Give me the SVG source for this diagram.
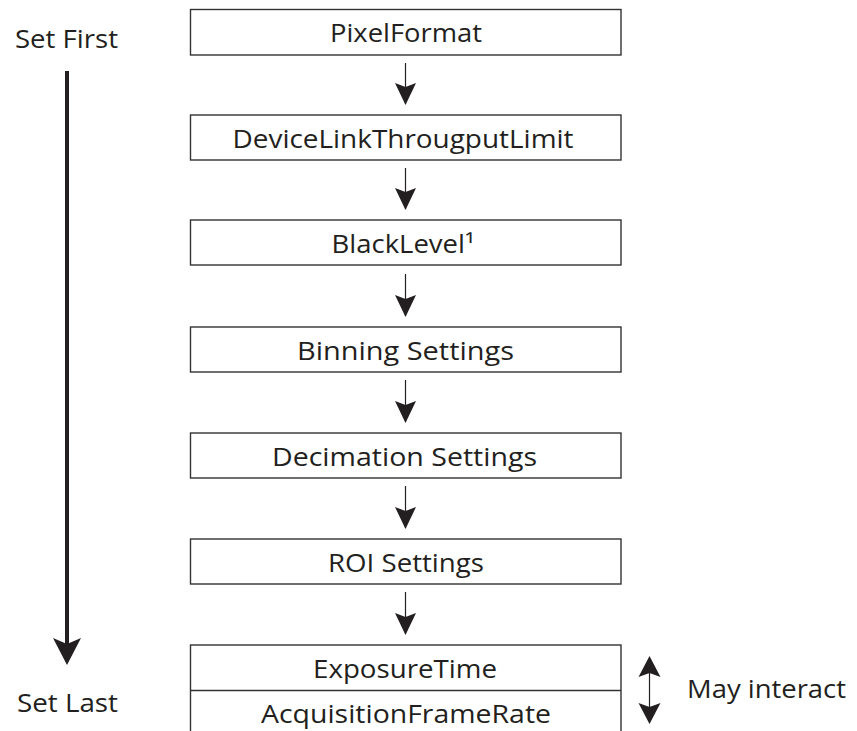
<svg xmlns="http://www.w3.org/2000/svg" width="857" height="731" viewBox="0 0 857 731">
<style>
  .box { fill: #fff; stroke: #333; stroke-width: 1.4; }
  .t { font-family: "Open Sans", "Noto Sans", sans-serif; font-size: 25px; fill: #231f20; text-anchor: middle; }
  .c { stroke: #231f20; stroke-width: 1.2; fill: none; }
  .head { fill: #231f20; stroke: none; }
</style>
<defs>
  <marker id="ah" viewBox="0 0 22 21" refX="21" refY="10.5" markerWidth="22" markerHeight="21" markerUnits="userSpaceOnUse" orient="auto">
    <path d="M0,0 L4,10.5 L0,21 L22,10.5 Z" class="head"/>
  </marker>
</defs>
<rect width="857" height="731" fill="#fff"/>

<g id="connectors">
  <line class="c" x1="405.5" y1="63" x2="405.5" y2="104" marker-end="url(#ah)"/>
  <line class="c" x1="405.5" y1="168" x2="405.5" y2="209" marker-end="url(#ah)"/>
  <line class="c" x1="405.5" y1="274" x2="405.5" y2="316" marker-end="url(#ah)"/>
  <line class="c" x1="405.5" y1="380" x2="405.5" y2="422" marker-end="url(#ah)"/>
  <line class="c" x1="405.5" y1="486" x2="405.5" y2="528" marker-end="url(#ah)"/>
  <line class="c" x1="405.5" y1="592" x2="405.5" y2="634" marker-end="url(#ah)"/>
</g>

<g id="order-arrow">
  <line x1="67" y1="71" x2="67" y2="645" stroke="#231f20" stroke-width="4"/>
  <path d="M53,638 L67,644 L81,638 L67,665 Z" class="head"/>
</g>

<g id="interact-arrow">
  <line x1="649.5" y1="670" x2="649.5" y2="710" stroke="#231f20" stroke-width="1.2"/>
  <path d="M638.5,677 L649.5,673 L660.5,677 L649.5,656 Z" class="head"/>
  <path d="M638.5,703 L649.5,707 L660.5,703 L649.5,724 Z" class="head"/>
</g>

<g id="label-set-first"><text class="t" x="66.5" y="47.5" textLength="103" lengthAdjust="spacingAndGlyphs">Set First</text></g>
<g id="label-set-last"><text class="t" x="67.5" y="712" textLength="101" lengthAdjust="spacingAndGlyphs">Set Last</text></g>
<g id="label-may-interact"><text class="t" x="766.5" y="698" textLength="159" lengthAdjust="spacingAndGlyphs">May interact</text></g>

<g id="node-pixelformat">
  <rect class="box" x="190.5" y="9.5" width="430.5" height="45.5"/>
  <text class="t" x="406" y="41.5" textLength="152" lengthAdjust="spacingAndGlyphs">PixelFormat</text>
</g>
<g id="node-devicelink">
  <rect class="box" x="190.5" y="115" width="430.5" height="45"/>
  <text class="t" x="403" y="147.5" textLength="341" lengthAdjust="spacingAndGlyphs">DeviceLinkThrougputLimit</text>
</g>
<g id="node-blacklevel">
  <rect class="box" x="190.5" y="220" width="430.5" height="45"/>
  <text class="t" x="403" y="252.5" textLength="143" lengthAdjust="spacingAndGlyphs">BlackLevel¹</text>
</g>
<g id="node-binning">
  <rect class="box" x="190.5" y="327" width="430.5" height="45"/>
  <text class="t" x="405.5" y="359.5" textLength="217" lengthAdjust="spacingAndGlyphs">Binning Settings</text>
</g>
<g id="node-decimation">
  <rect class="box" x="190.5" y="433" width="430.5" height="45"/>
  <text class="t" x="404.5" y="465.5" textLength="265" lengthAdjust="spacingAndGlyphs">Decimation Settings</text>
</g>
<g id="node-roi">
  <rect class="box" x="190.5" y="539" width="430.5" height="45"/>
  <text class="t" x="406" y="571.5" textLength="156" lengthAdjust="spacingAndGlyphs">ROI Settings</text>
</g>
<g id="node-exposure">
  <rect class="box" x="190.5" y="645" width="430.5" height="100"/>
  <line x1="190.5" y1="690.5" x2="621" y2="690.5" stroke="#333" stroke-width="1.4"/>
  <text class="t" x="405" y="677.5" textLength="184" lengthAdjust="spacingAndGlyphs">ExposureTime</text>
  <text class="t" x="406" y="722.5" textLength="290" lengthAdjust="spacingAndGlyphs">AcquisitionFrameRate</text>
</g>
</svg>
